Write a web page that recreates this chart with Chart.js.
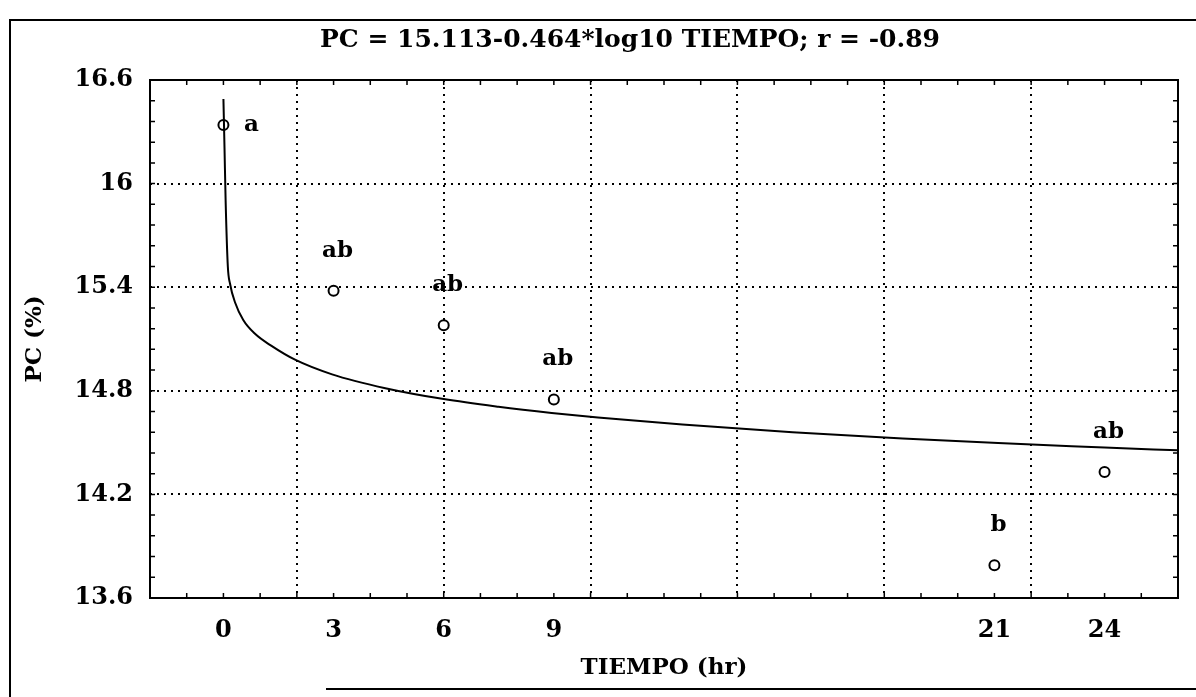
<!DOCTYPE html>
<html>
<head>
<meta charset="utf-8">
<script src="https://cdn.jsdelivr.net/npm/chart.js@4/dist/chart.umd.min.js"></script>
<style>
  body { margin: 0; background: #fff; }
  #wrap { position: relative; width: 1196px; height: 697px; overflow: hidden; }
  #pcChart { position: absolute; left: 0; top: 0; }
  .marco { position: absolute; background: #000; }
</style>
</head>
<body>
<div id="wrap">
  <canvas id="pcChart" width="1196" height="697"></canvas>
  <!-- marco exterior del escaneo -->
  <div class="marco" style="left:9px; top:19px; width:2px; height:678px;"></div>
  <div class="marco" style="left:9px; top:19px; width:1187px; height:2px;"></div>
  <div class="marco" style="left:326px; top:688px; width:870px; height:2px;"></div>
</div>
<script>
// datos
const tiempoHoras = [0, 3, 6, 9, 21, 24];
const pcMedias = [16.34, 15.38, 15.18, 14.75, 13.79, 14.33];
const letras = ["a", "ab", "ab", "ab", "b", "ab"];

// curva ajustada
const curvaTiempo = [0, 0.03, 0.06, 0.12, 0.18, 0.32, 0.54, 0.86, 1.31, 1.95, 2.96, 4.41, 6.0, 7.49, 8.94, 10.2, 12.5, 15.5, 18.5, 21.1, 24, 26];
const curvaPC = [16.49, 16.2, 15.9, 15.52, 15.42, 15.31, 15.21, 15.13, 15.06, 14.98, 14.895, 14.815, 14.752, 14.708, 14.672, 14.645, 14.605, 14.56, 14.524, 14.497, 14.472, 14.455];

// ejes
const xEtiquetas = [0, 3, 6, 9, 21, 24];
const xGrid = [2, 6, 10, 14, 18, 22];
const yEtiquetas = [13.6, 14.2, 14.8, 15.4, 16, 16.6];
const yGrid = [14.2, 14.8, 15.4, 16];

const fuente = "'DejaVu Serif', 'Liberation Serif', serif";
const enLista = (lista, v) => lista.some((cur) => Math.abs(cur - v) < 1e-6);

// caja, marcas menores y letras
const marcoPlugin = {
  id: "marco",
  afterLayout(chart) {
    // el titulo del original esta algo corrido a la izquierda
    chart.titleBlock.left -= 34;
    chart.titleBlock.right -= 34;
  },
  afterDraw(chart) {
    const { ctx, chartArea: a, scales } = chart;
    ctx.save();
    ctx.strokeStyle = "#000";
    ctx.lineWidth = 2;
    ctx.strokeRect(a.left, a.top, a.right - a.left, a.bottom - a.top);

    ctx.lineWidth = 1.5;
    ctx.beginPath();
    scales.x.ticks.forEach((t) => {
      const px = scales.x.getPixelForValue(t.value);
      ctx.moveTo(px, a.bottom);
      ctx.lineTo(px, a.bottom - 5);
      ctx.moveTo(px, a.top);
      ctx.lineTo(px, a.top + 5);
    });
    scales.y.ticks.forEach((t) => {
      const py = scales.y.getPixelForValue(t.value);
      ctx.moveTo(a.left, py);
      ctx.lineTo(a.left + 5, py);
      ctx.moveTo(a.right, py);
      ctx.lineTo(a.right - 5, py);
    });
    ctx.stroke();

    // letras de significancia
    ctx.fillStyle = "#000";
    ctx.font = "bold 23px " + fuente;
    ctx.textAlign = "center";
    ctx.textBaseline = "middle";
    chart.getDatasetMeta(1).data.forEach((p, i) => {
      if (i === 0) {
        ctx.fillText(letras[i], p.x + 28, p.y);
      } else {
        ctx.fillText(letras[i], p.x + 4, p.y - 40);
      }
    });
    ctx.restore();
  },
};

new Chart(document.getElementById("pcChart"), {
  type: "scatter",
  data: {
    datasets: [
      {
        type: "line",
        label: "Ajuste",
        data: curvaTiempo.map((t, i) => ({ x: t, y: curvaPC[i] })),
        borderColor: "#000",
        borderWidth: 2,
        pointRadius: 0,
        cubicInterpolationMode: "monotone",
        fill: false,
      },
      {
        type: "scatter",
        label: "PC",
        data: tiempoHoras.map((t, i) => ({ x: t, y: pcMedias[i] })),
        borderColor: "#000",
        backgroundColor: "#fff",
        borderWidth: 2,
        pointRadius: 5,
      },
    ],
  },
  options: {
    responsive: false,
    animation: false,
    layout: { padding: { left: 0, right: 18, top: 0, bottom: 0 } },
    plugins: {
      legend: { display: false },
      tooltip: { enabled: false },
      title: {
        display: true,
        text: "PC = 15.113-0.464*log10 TIEMPO; r = -0.89",
        color: "#000",
        font: { family: fuente, weight: "bold", size: 25 },
        padding: { top: 25, bottom: 25 },
        fullSize: false,
      },
    },
    scales: {
      x: {
        type: "linear",
        min: -2,
        max: 26,
        afterFit: (scale) => { scale.height = 99; },
        ticks: {
          stepSize: 1,
          autoSkip: false,
          maxRotation: 0,
          padding: 18,
          color: "#000",
          font: { family: fuente, weight: "bold", size: 24 },
          callback: (v) => (enLista(xEtiquetas, v) ? String(v) : ""),
        },
        grid: {
          drawTicks: false,
          lineWidth: 2,
          color: (ctx) => (ctx.tick && enLista(xGrid, ctx.tick.value) ? "#000" : "rgba(0,0,0,0)"),
        },
        border: { display: false, dash: [2, 5] },
        title: {
          display: true,
          text: "TIEMPO (hr)",
          color: "#000",
          font: { family: fuente, weight: "bold", size: 23 },
          padding: { top: 0, bottom: 15 },
        },
      },
      y: {
        min: 13.6,
        max: 16.6,
        afterFit: (scale) => { scale.width = 150; },
        ticks: {
          stepSize: 0.12,
          autoSkip: false,
          padding: 17,
          color: "#000",
          font: { family: fuente, weight: "bold", size: 24 },
          callback: (v) => {
            const e = yEtiquetas.find((cur) => Math.abs(cur - v) < 1e-6);
            return e === undefined ? "" : String(e);
          },
        },
        grid: {
          drawTicks: false,
          lineWidth: 2,
          color: (ctx) => (ctx.tick && enLista(yGrid, ctx.tick.value) ? "#000" : "rgba(0,0,0,0)"),
        },
        border: { display: false, dash: [2, 5] },
        title: {
          display: true,
          text: "PC (%)",
          color: "#000",
          font: { family: fuente, weight: "bold", size: 23 },
          padding: { top: 21, bottom: 0 },
        },
      },
    },
  },
  plugins: [marcoPlugin],
});
</script>
</body>
</html>
